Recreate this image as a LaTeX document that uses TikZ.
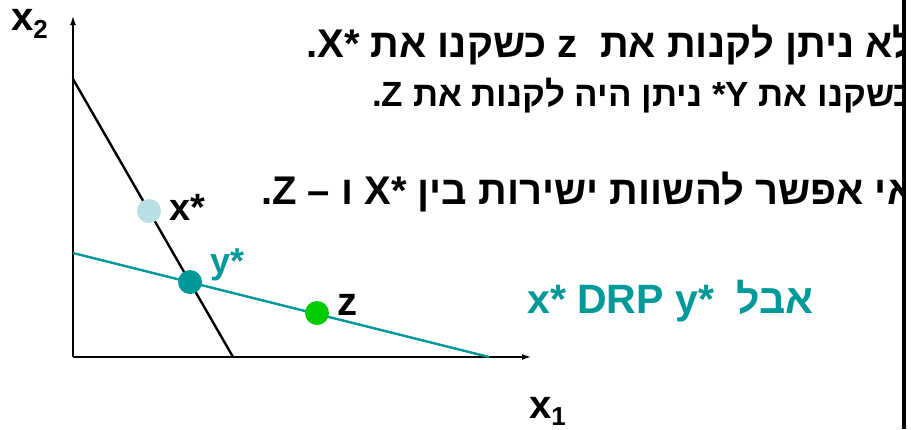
\documentclass[tikz,border=0pt]{standalone}
\usepackage{fontspec}
\setmainfont{Liberation Sans}
\newfontfamily\hebfont[Script=Hebrew]{Liberation Sans}
\newfontfamily\latfont{Liberation Sans}
\TeXXeTstate=1
\usetikzlibrary{arrows.meta}
\definecolor{dteal}{RGB}{0,153,153}
\definecolor{lblue}{RGB}{185,223,228}
\definecolor{zgreen}{RGB}{0,204,0}
\tikzset{
  axis/.style={line width=1.4pt, -{Latex[length=9pt,width=6pt]}},
  budget/.style={line width=2.4pt},
  dot/.style={circle, inner sep=0pt, minimum size=24pt},
  lbl/.style={inner sep=0pt, anchor=base west},
  heb/.style={inner sep=0pt, anchor=base west},
}
\begin{document}
\begin{tikzpicture}[x=1pt,y=-1pt]
\useasboundingbox (0,0) rectangle (911,429);
\fill[white] (0,0) rectangle (911,429);
% coordinates
\coordinate (o) at (73,357);
\coordinate (ytop) at (73,16);
\coordinate (xend) at (531,357);
\coordinate (a1) at (73,79);
\coordinate (a2) at (233,357);
\coordinate (b1) at (73,253);
\coordinate (b2) at (489,357);
% axes
\draw[axis] (o) -- (ytop);
\draw[axis] (o) -- (xend);
% budget lines
\draw[budget, black] (a1) -- (a2);
\draw[budget, dteal] (b1) -- (b2);
% points
\node[dot, fill=lblue] (xs) at (149,211) {};
\node[dot, fill=dteal] (ys) at (190,282) {};
\node[dot, fill=zgreen] (zp) at (317,313) {};
% point labels
\node[lbl, font=\bfseries\fontsize{38}{38}\selectfont] (xsl) at (169,220) {x*};
\node[lbl, text=dteal, font=\bfseries\fontsize{36}{36}\selectfont] (ysl) at (210,273) {y*};
\node[lbl, font=\bfseries\fontsize{40}{40}\selectfont] (zl) at (337,315) {z};
% axis labels
\node[lbl, font=\bfseries\fontsize{40}{40}\selectfont] (x2l) at (11,30) {x\raisebox{-8pt}{\fontsize{26}{26}\selectfont 2}};
\node[lbl, font=\bfseries\fontsize{40}{40}\selectfont] (x1l) at (529,418) {x\raisebox{-7pt}{\fontsize{26}{26}\selectfont 1}};
% hebrew text, clipped at the right frame
\begin{scope}
\clip (0,0) rectangle (902,429);
\node[heb, font=\hebfont\bfseries\fontsize{40}{40}\selectfont] (t1) at (306,57) {{\latfont .X*} \beginR כשקנו את\endR{} {\latfont z}\ \ \beginR לא ניתן לקנות את\endR};
\node[heb, font=\hebfont\bfseries\fontsize{35}{35}\selectfont] (t2) at (372,106) {{\latfont .Z} \beginR ניתן היה לקנות את\endR{} {\latfont\hbox{*}\hbox{Y}} \beginR כשקנו את\endR};
\node[heb, font=\hebfont\bfseries\fontsize{40}{40}\selectfont] (t3) at (261,204) {{\latfont .Z –} ו {\latfont X*} \beginR אי אפשר להשוות ישירות בין\endR};
\end{scope}
\node[heb, text=dteal, font=\hebfont\bfseries\fontsize{41}{41}\selectfont] (t4) at (527,313) {{\latfont x* DRP y*}\ \ \beginR אבל\endR};
% right frame bar
\fill[black] (902,0) rectangle (906,429);
\end{tikzpicture}
\end{document}
